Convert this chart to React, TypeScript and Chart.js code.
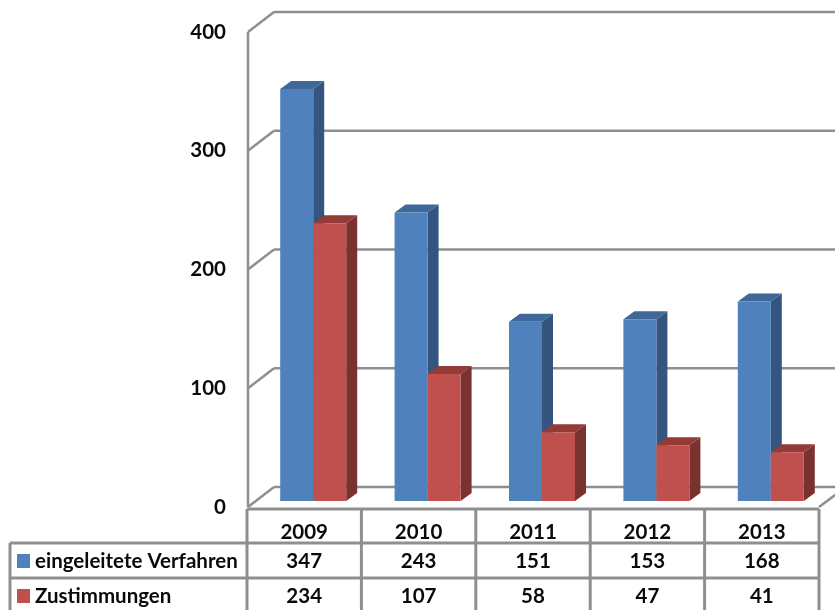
import React, { useEffect, useRef } from "react";
import { Chart, registerables } from "chart.js";

Chart.register(...registerables);

const years = ["2009", "2010", "2011", "2012", "2013"];
const verfahren = [347, 243, 151, 153, 168];
const zustimmungen = [234, 107, 58, 47, 41];
const seriesNames = ["eingeleitete Verfahren", "Zustimmungen"];
const yTicks = [0, 100, 200, 300, 400];

const LINE = "#8f8f8f";
const INK = "#0a0a0a";
const FONT = "Lato, sans-serif";
const FONT_SIZE = 20.5;
const faces = [
  { front: "#4f81bd", side: "#34557f", top: "#3f6797" },
  { front: "#c0504d", side: "#7a3230", top: "#943a37" },
];

const BAR_SHIFT = { x: 9, y: -6 };
const BAR_DEPTH = { x: 11, y: -8 };
const WALL = { x: 27, y: -20 };
const TABLE_LEFT = 10;
const TABLE_ROWS = [543, 578, 625];

const line = (ctx: CanvasRenderingContext2D, x1: number, y1: number, x2: number, y2: number) => {
  ctx.beginPath();
  ctx.moveTo(x1, y1);
  ctx.lineTo(x2, y2);
  ctx.stroke();
};

const poly = (ctx: CanvasRenderingContext2D, pts: number[][], fill: string) => {
  ctx.fillStyle = fill;
  ctx.beginPath();
  pts.forEach(([x, y], i) => (i ? ctx.lineTo(x, y) : ctx.moveTo(x, y)));
  ctx.closePath();
  ctx.fill();
};

// Side and top faces of one series, behind its front faces.
const drawDepthFaces = (ctx: CanvasRenderingContext2D, meta: any, c: (typeof faces)[number]) => {
  for (const bar of meta.data) {
    const { x, y, base, width } = bar.getProps(["x", "y", "base", "width"], true);
    const l = x - width / 2;
    const r = x + width / 2;
    const dx = BAR_DEPTH.x;
    const dy = BAR_DEPTH.y;
    poly(ctx, [[r, y], [r + dx, y + dy], [r + dx, base + dy], [r, base]], c.side);
    poly(ctx, [[l, y], [l + dx, y + dy], [r + dx, y + dy], [r, y]], c.top);
  }
};

const boxPlugin = {
  id: "box3d",
  // Walls and gridlines first, then the series from first to last so that
  // each red bar sits in front of the blue bar's side face.
  beforeDatasetsDraw(chart: any) {
    const { ctx, chartArea: a, scales } = chart;
    ctx.save();
    ctx.strokeStyle = LINE;
    ctx.lineWidth = 2.5;
    line(ctx, a.left + 1, a.top, a.left + 1, a.bottom);
    for (const v of yTicks) {
      const y = scales.y.getPixelForValue(v);
      line(ctx, a.left + 1, y, a.left + WALL.x, y + WALL.y);
      line(ctx, a.left + WALL.x, y + WALL.y, chart.width + 40, y + WALL.y);
    }
    line(ctx, a.right, a.bottom, a.right + WALL.x, a.bottom + WALL.y);
    ctx.restore();

    ctx.save();
    ctx.translate(BAR_SHIFT.x, BAR_SHIFT.y);
    chart.data.datasets.forEach((_: unknown, i: number) => {
      const meta = chart.getDatasetMeta(i);
      drawDepthFaces(ctx, meta, faces[i]);
      meta.controller.draw();
    });
    ctx.restore();
    return false;
  },
  // Data table below the plot: grid, legend keys and value rows.
  afterDraw(chart: any) {
    const { ctx, chartArea: a, scales } = chart;
    const step = (a.right - a.left) / years.length;
    const rows = [verfahren, zustimmungen];
    ctx.save();
    ctx.strokeStyle = LINE;
    ctx.lineWidth = 3;
    line(ctx, a.left, a.bottom + 2, a.right, a.bottom + 2);
    line(ctx, TABLE_LEFT, TABLE_ROWS[0], a.right, TABLE_ROWS[0]);
    line(ctx, TABLE_LEFT, TABLE_ROWS[1], a.right, TABLE_ROWS[1]);
    line(ctx, TABLE_LEFT, TABLE_ROWS[0], TABLE_LEFT, TABLE_ROWS[2]);
    for (let i = 0; i <= years.length; i++) {
      const x = a.left + i * step;
      line(ctx, x, a.bottom + 2, x, TABLE_ROWS[2]);
    }
    ctx.textBaseline = "middle";
    ctx.font = `700 ${FONT_SIZE}px ${FONT}`;
    rows.forEach((values, r) => {
      const cy = r === 0 ? 561 : 596;
      ctx.fillStyle = faces[r].front;
      ctx.fillRect(17, cy - 7, 13, 14);
      ctx.fillStyle = INK;
      ctx.textAlign = "left";
      ctx.fillText(seriesNames[r], 35, cy);
      ctx.textAlign = "center";
      values.forEach((v, i) => ctx.fillText(String(v), scales.x.getPixelForValue(i), cy));
    });
    ctx.restore();
  },
};

export default function App() {
  const ref = useRef<HTMLCanvasElement>(null);
  useEffect(() => {
    const chart = new Chart(ref.current!, {
      type: "bar",
      data: {
        labels: years,
        datasets: [
          { label: seriesNames[0], data: verfahren, backgroundColor: faces[0].front, clip: false },
          { label: seriesNames[1], data: zustimmungen, backgroundColor: faces[1].front, clip: false },
        ],
      } as any,
      options: {
        animation: false,
        responsive: false,
        layout: { padding: { top: 32, right: 16, left: 0, bottom: 0 } },
        datasets: { bar: { categoryPercentage: 0.577, barPercentage: 1 } },
        plugins: { legend: { display: false }, tooltip: { enabled: false } },
        scales: {
          x: {
            grid: { display: false },
            border: { display: false },
            afterFit: (s: any) => { s.height = 103; },
            ticks: { color: INK, font: { family: FONT, size: FONT_SIZE, weight: "700" }, padding: 5, maxRotation: 0 },
          },
          y: {
            min: 0,
            max: 400,
            grid: { display: false },
            border: { display: false },
            afterFit: (s: any) => { s.width = 247; },
            ticks: { stepSize: 100, color: INK, font: { family: FONT, size: FONT_SIZE, weight: "700" }, padding: 21 - 8 },
          },
        },
      } as any,
      plugins: [boxPlugin],
    });
    return () => chart.destroy();
  }, []);
  return (
    <div style={{ position: "fixed", left: 0, top: 0, width: 835, height: 610, background: "#fff" }}>
      <canvas ref={ref} width={835} height={610} style={{ display: "block" }} />
    </div>
  );
}
